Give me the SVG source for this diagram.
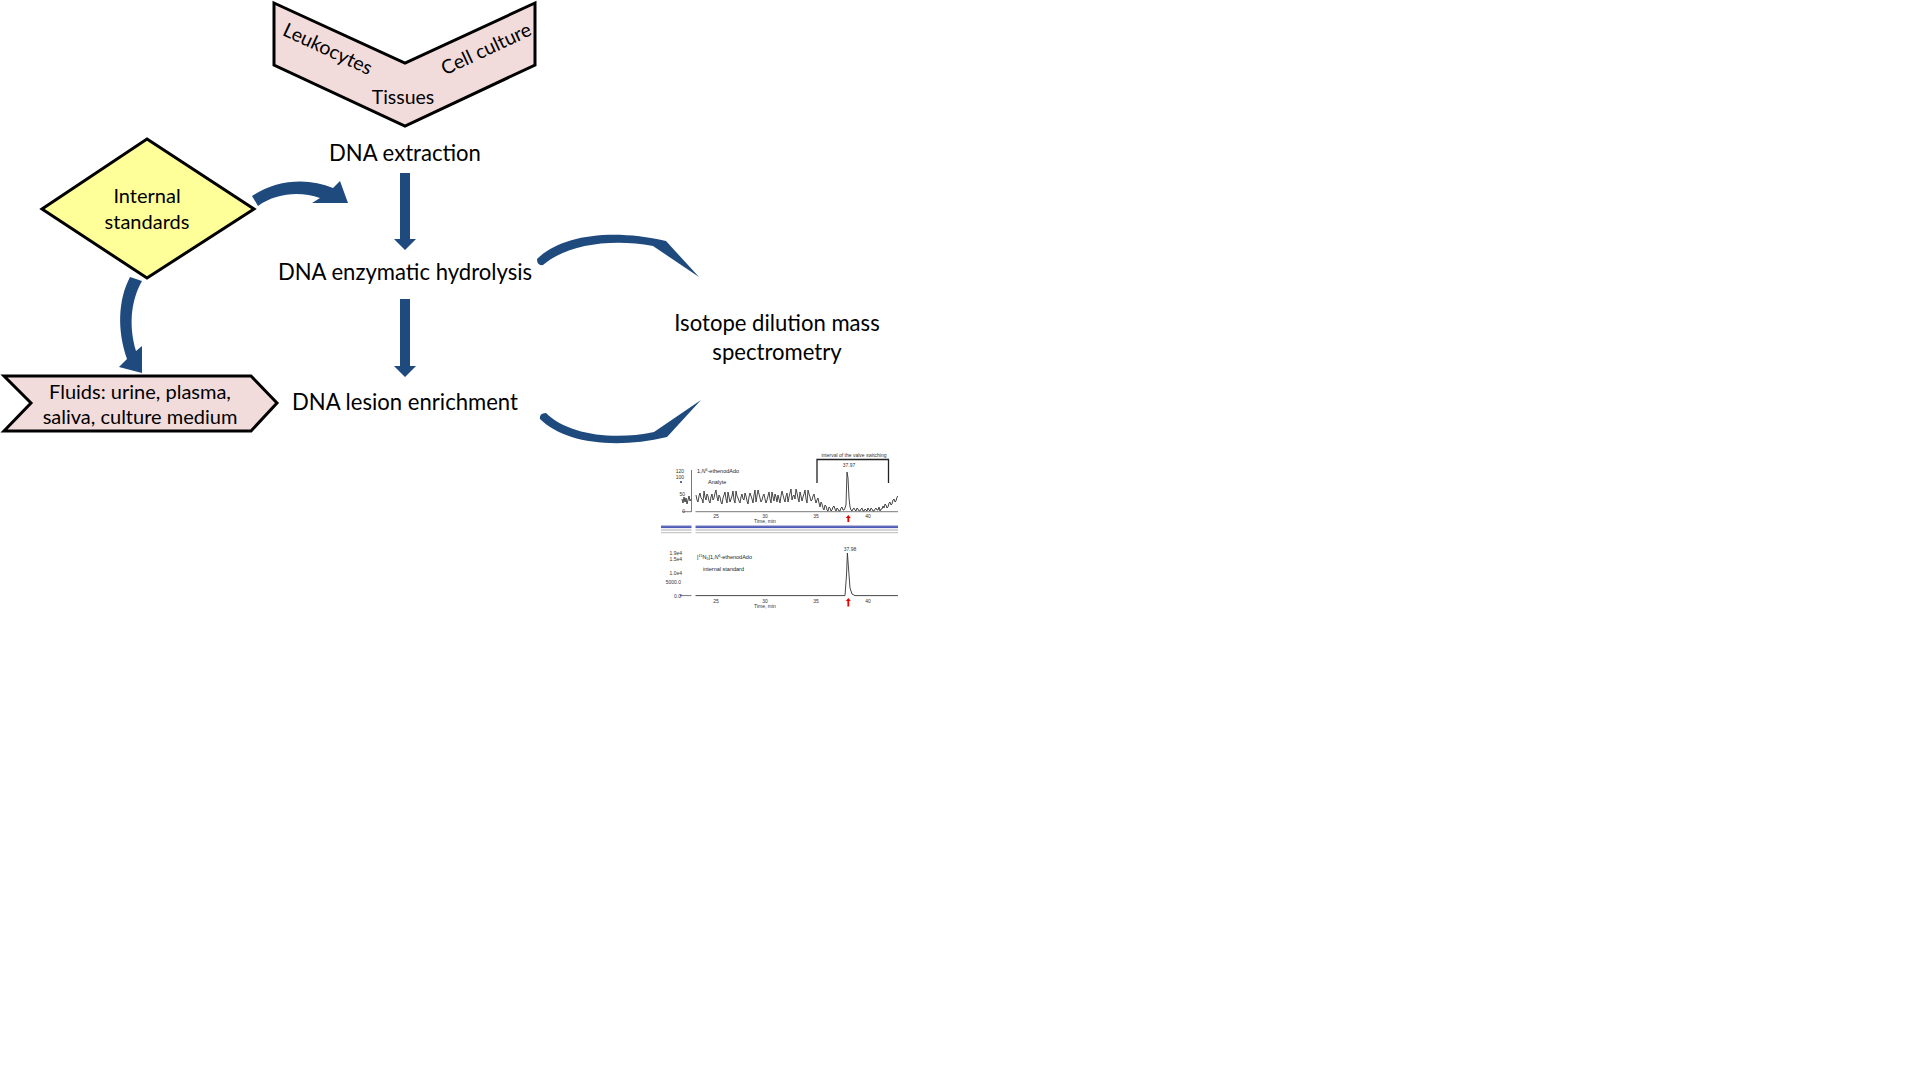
<svg xmlns="http://www.w3.org/2000/svg" width="1920" height="1080" viewBox="0 0 1920 1080">
<defs>
<style>
.lbl{font-family:Lato,"Liberation Sans",sans-serif;fill:#000}
.big{font-size:22.1px}
.mid{font-size:19.5px}
.sm{font-size:20px}
.shape{stroke:#000;stroke-width:3;stroke-linejoin:miter}
.pink{fill:#F2DCDB}
.yellow{fill:#FFFF99}
.conn{fill:#1F4A7D;stroke:none}
.ax{font-family:"Liberation Sans",Arial,sans-serif;font-size:5px;fill:#333}
.axs{font-family:"Liberation Sans",Arial,sans-serif;font-size:5.5px;fill:#222}
.trace{fill:none;stroke:#333;stroke-width:0.9}
.axis{fill:none;stroke:#555;stroke-width:0.8}
</style>
</defs>
<rect width="1920" height="1080" fill="#fff"/>

<g id="sources">
<polygon class="shape pink" points="274,3 405,63 535,3 535,65 405,126 274,65"/>
<text class="lbl mid" text-anchor="middle" transform="translate(325,55) rotate(25)">Leukocytes</text>
<text class="lbl mid" text-anchor="middle" transform="translate(489,55) rotate(-25)">Cell culture</text>
<text class="lbl mid" x="403" y="104" text-anchor="middle">Tissues</text>
</g>

<g id="internal-standards">
<polygon class="shape yellow" points="147,139 254,209 147,278 42,209"/>
<text class="lbl sm" x="147" y="203" text-anchor="middle">Internal</text>
<text class="lbl sm" x="147" y="229" text-anchor="middle">standards</text>
</g>

<g id="fluids">
<polygon class="shape pink" points="4,376 251,376 277,403 251,431 4,431 31,403"/>
<text class="lbl sm" x="140" y="399" text-anchor="middle">Fluids: urine, plasma,</text>
<text class="lbl sm" x="140" y="424" text-anchor="middle">saliva, culture medium</text>
</g>

<g id="dna-extraction">
<text class="lbl big" x="405" y="161" text-anchor="middle">DNA extraction</text>
</g>
<g id="dna-hydrolysis">
<text class="lbl big" x="405" y="280" text-anchor="middle">DNA enzymatic hydrolysis</text>
</g>
<g id="dna-enrichment">
<text class="lbl big" x="405" y="410" text-anchor="middle">DNA lesion enrichment</text>
</g>
<g id="idms">
<text class="lbl big" x="777" y="331" text-anchor="middle">Isotope dilution mass</text>
<text class="lbl big" x="777" y="360" text-anchor="middle">spectrometry</text>
</g>

<g id="connectors">
<path class="conn" d="M400,173 H410 V239 H416 L405,250 L394,239 H400 Z"/>
<path class="conn" d="M400,299 H410 V366 H416 L405,377 L394,366 H400 Z"/>
<path class="conn" d="M252,196 C275,180 308,177 333,188 L340,181 L348,203 L312,203 L320,198 C300,191 276,193 258,206 Z"/>
<path class="conn" d="M130,277 C118,300 117,330 127,359 L119,367 L142,373 L142,346 L136,351 C129,328 130,302 142,281 Z"/>
<path class="conn" d="M537,259 C560,236 610,228 666,241 L699,277 L653,246 C610,238 566,245 543,265 Q537,266 537,259 Z"/>
<path class="conn" d="M540,419 C563,442 613,450 667,437 L701,400 L654,432 C612,441 567,434 546,413 Q539,413 540,419 Z"/>
</g>

<g id="chromatogram">
<text class="ax" x="854" y="456.5" text-anchor="middle">interval of the valve switching</text>
<polyline fill="none" stroke="#222" stroke-width="1.3" points="817,483 817,459.5 888.5,459.5 888.5,483"/>
<text class="ax" x="849" y="466.5" text-anchor="middle">37.97</text>
<text class="ax" x="684" y="472.5" text-anchor="end">120</text>
<text class="ax" x="684" y="478.5" text-anchor="end">100</text>
<text class="ax" x="685" y="496" text-anchor="end">50</text>
<text class="ax" x="685" y="513" text-anchor="end">0</text>
<rect x="680.3" y="481" width="1.4" height="2" fill="#1a2a9a"/>
<line class="axis" x1="691.5" y1="470" x2="691.5" y2="511.7"/>
<text class="axs" x="697" y="472.5">1,<tspan font-style="italic">N</tspan><tspan font-size="3.5" dy="-1.5">6</tspan><tspan dy="1.5">-ethenodAdo</tspan></text>
<text class="axs" x="708" y="483.5">Analyte</text>
<polyline class="trace" points="682,499 683,503 684,497 685,502 686,498 687,504 688,500 689,496 690,501 691,499"/>
<polyline class="trace" points="696,495 697,500 698,502 699,496 700,493 701,498 702,499 703,503 704,491 705,497 706,500 707,494 708,496 709,501 710,503 711,497 712,494 713,500 714,498 715,493 716,490 717,497 718,501 719,495 720,497 721,502 722,504 723,498 724,495 725,492 726,499 727,503 728,492 729,497 730,502 731,499 732,496 733,491 734,500 735,503 736,491 737,496 738,498 739,501 740,503 741,497 742,494 743,499 744,500 745,493 746,496 747,501 748,504 749,497 750,493 751,496 752,499 753,503 754,495 755,490 756,502 757,496 758,490 759,494 760,498 761,502 762,500 763,496 764,494 765,499 766,503 767,500 768,496 769,492 770,499 771,503 772,492 773,497 774,501 775,494 776,497 777,502 778,495 779,499 780,503 781,496 782,491 783,495 784,499 785,502 786,496 787,493 788,502 789,497 790,493 791,489 792,500 793,496 794,495 795,499 796,489 797,493 798,498 799,502 800,492 801,496 802,501 803,497 804,494 805,490 806,499 807,503 808,490 809,494 810,497 811,501 812,500 813,496 814,494 815,499 816,503 817,500 818,498 819,503 820,507 821,502 822,504 823,508 824,510 825,505 826,506 827,510 828,511 829,507 830,508 831,511 832,510 833,507 834,506 835,509 836,511 837,508 838,509 839,511 840,511 841,508 842,507 843,510 844,510 845,508 846,505 847,472 848,478 849,498 850,507 851,510 852,511 853,509 854,508 855,510 856,511 857,508 858,509 859,511 860,511 861,509 862,508 863,511 864,511 865,509 866,510 867,511 868,508 869,510 870,511 871,508 872,509 873,511 874,511 875,509 876,508 877,510 878,510 879,507 880,511 881,509 882,509 883,506 884,508 885,504 886,505 887,508 888,507 889,503 890,502 891,505 892,504 893,500 894,499 895,502 896,501 897,497 898,496"/>
<line class="axis" x1="682" y1="511.7" x2="691.5" y2="511.7"/>
<line class="axis" x1="695.5" y1="511.7" x2="898" y2="511.7"/>
<text class="ax" x="716" y="517.5" text-anchor="middle">25</text>
<text class="ax" x="765" y="517.5" text-anchor="middle">30</text>
<text class="ax" x="816" y="517.5" text-anchor="middle">35</text>
<text class="ax" x="868" y="517.5" text-anchor="middle">40</text>
<text class="ax" x="765" y="523" text-anchor="middle">Time, min</text>
<path fill="#e00" d="M848.3,515 L850.8,518 H849.2 V522 H847.4 V518 H845.8 Z"/>
<g stroke-width="1">
<line x1="661" y1="526.2" x2="691.5" y2="526.2" stroke="#1a2a9a"/>
<line x1="695.5" y1="526.2" x2="898" y2="526.2" stroke="#1a2a9a"/>
<line x1="661" y1="527.6" x2="691.5" y2="527.6" stroke="#3a4ab0"/>
<line x1="695.5" y1="527.6" x2="898" y2="527.6" stroke="#3a4ab0"/>
<line x1="661" y1="530" x2="691.5" y2="530" stroke="#aaa"/>
<line x1="695.5" y1="530" x2="898" y2="530" stroke="#aaa"/>
<line x1="661" y1="532.7" x2="691.5" y2="532.7" stroke="#bbb"/>
<line x1="695.5" y1="532.7" x2="898" y2="532.7" stroke="#bbb"/>
</g>
<text class="ax" x="850" y="550.5" text-anchor="middle">37.98</text>
<text class="ax" x="682" y="555" text-anchor="end">1.9e4</text>
<text class="ax" x="682" y="561" text-anchor="end">1.5e4</text>
<text class="ax" x="682" y="574.5" text-anchor="end">1.0e4</text>
<text class="ax" x="681" y="584" text-anchor="end">5000.0</text>
<text class="ax" x="681" y="597.5" text-anchor="end">0.0</text>
<text class="axs" x="697" y="558.5">[<tspan font-size="3.5" dy="-1.5">15</tspan><tspan dy="1.5">N</tspan><tspan font-size="3.5" dy="1">5</tspan><tspan dy="-1">]1,</tspan><tspan font-style="italic">N</tspan><tspan font-size="3.5" dy="-1.5">6</tspan><tspan dy="1.5">-ethenodAdo</tspan></text>
<text class="axs" x="703" y="571">internal standard</text>
<rect x="680.3" y="594.5" width="1.4" height="1.8" fill="#1a2a9a"/>
<line class="axis" x1="682" y1="595.6" x2="691.5" y2="595.6"/>
<path class="trace" d="M695.5,595.6 L845,595.6 L846.5,575 L847.4,553 L848.5,568 L850,588 L852,594 L855,595.6 L898,595.6"/>
<text class="ax" x="716" y="602.5" text-anchor="middle">25</text>
<text class="ax" x="765" y="602.5" text-anchor="middle">30</text>
<text class="ax" x="816" y="602.5" text-anchor="middle">35</text>
<text class="ax" x="868" y="602.5" text-anchor="middle">40</text>
<text class="ax" x="765" y="608" text-anchor="middle">Time, min</text>
<path fill="#e00" d="M848.3,598 L850.8,601 H849.2 V606.5 H847.4 V601 H845.8 Z"/>
</g>
</svg>
